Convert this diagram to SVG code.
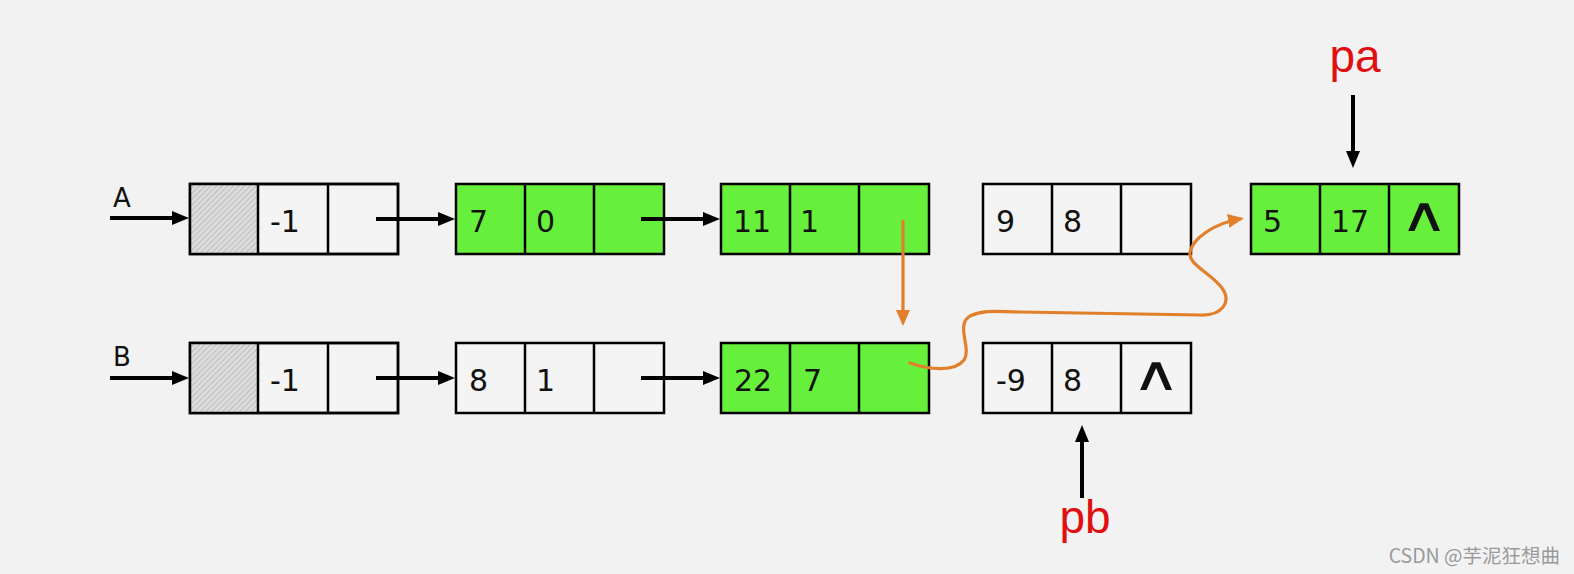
<svg xmlns="http://www.w3.org/2000/svg" width="1574" height="574" viewBox="0 0 1574 574">
<defs>
<style>
.cell{fill:#f4f4f4;stroke:#000;stroke-width:2.5}
.g{fill:#66f03c;stroke:#000;stroke-width:2.5}
.div{stroke:#000;stroke-width:2.5}
.t{font-family:"DejaVu Sans",Verdana,sans-serif;font-size:30px;fill:#111}
.nil{font-family:"DejaVu Sans",sans-serif;font-size:48px;fill:#111;text-anchor:middle}
.lab{font-family:"DejaVu Sans",Verdana,sans-serif;font-size:26px;fill:#111}
.ptr{font-family:"Liberation Sans",Arial,sans-serif;font-size:46px;fill:#e01010;text-anchor:middle}
.blk{stroke:#000;stroke-width:4;fill:none}
.org{stroke:#e37f2b;stroke-width:3.2;fill:none;stroke-linecap:round}
</style>
<pattern id="hatch" width="4" height="4" patternUnits="userSpaceOnUse" patternTransform="rotate(45)">
<rect width="4" height="4" fill="#dcdcdc"/>
<line x1="0" y1="0" x2="0" y2="4" stroke="#a8a8a8" stroke-width="1.2"/>
</pattern>
<marker id="ab" markerUnits="userSpaceOnUse" markerWidth="18" markerHeight="16" refX="12" refY="7" orient="auto">
<path d="M0,0 L17,7 L0,14 Z" fill="#000"/>
</marker>
<marker id="ao" markerUnits="userSpaceOnUse" markerWidth="18" markerHeight="16" refX="12" refY="7" orient="auto">
<path d="M0,0 L16,7 L0,14 Z" fill="#e37f2b"/>
</marker>
</defs>
<rect width="1574" height="574" fill="#f2f2f2"/>

<g id="labelA"><text class="lab" x="113" y="207">A</text></g>
<g id="labelB"><text class="lab" x="113" y="366">B</text></g>

<g id="A0">
<rect class="cell" x="190" y="184" width="208" height="70"/>
<rect x="191" y="185" width="67" height="68" fill="url(#hatch)"/>
<line class="div" x1="258" y1="184" x2="258" y2="254"/>
<line class="div" x1="328" y1="184" x2="328" y2="254"/>
<rect x="190" y="184" width="208" height="70" fill="none" stroke="#000" stroke-width="2.5"/>
<text class="t" x="270" y="232">-1</text>
</g>
<g id="A1">
<rect class="g" x="456" y="184" width="208" height="70"/>
<line class="div" x1="525" y1="184" x2="525" y2="254"/>
<line class="div" x1="594" y1="184" x2="594" y2="254"/>
<text class="t" x="469" y="232">7</text>
<text class="t" x="536" y="232">0</text>
</g>
<g id="A2">
<rect class="g" x="721" y="184" width="208" height="70"/>
<line class="div" x1="790" y1="184" x2="790" y2="254"/>
<line class="div" x1="859" y1="184" x2="859" y2="254"/>
<text class="t" x="733" y="232">11</text>
<text class="t" x="800" y="232">1</text>
</g>
<g id="A3">
<rect class="cell" x="983" y="184" width="208" height="70"/>
<line class="div" x1="1052" y1="184" x2="1052" y2="254"/>
<line class="div" x1="1121" y1="184" x2="1121" y2="254"/>
<text class="t" x="996" y="232">9</text>
<text class="t" x="1063" y="232">8</text>
</g>
<g id="A4">
<rect class="g" x="1251" y="184" width="208" height="70"/>
<line class="div" x1="1320" y1="184" x2="1320" y2="254"/>
<line class="div" x1="1389" y1="184" x2="1389" y2="254"/>
<text class="t" x="1263" y="232">5</text>
<text class="t" x="1331" y="232">17</text>
<text class="nil" transform="translate(1424,231) scale(1.4,1)" x="0" y="0">∧</text>
</g>

<g id="B0">
<rect class="cell" x="190" y="343" width="208" height="70"/>
<rect x="191" y="344" width="67" height="68" fill="url(#hatch)"/>
<line class="div" x1="258" y1="343" x2="258" y2="413"/>
<line class="div" x1="328" y1="343" x2="328" y2="413"/>
<rect x="190" y="343" width="208" height="70" fill="none" stroke="#000" stroke-width="2.5"/>
<text class="t" x="270" y="391">-1</text>
</g>
<g id="B1">
<rect class="cell" x="456" y="343" width="208" height="70"/>
<line class="div" x1="525" y1="343" x2="525" y2="413"/>
<line class="div" x1="594" y1="343" x2="594" y2="413"/>
<text class="t" x="469" y="391">8</text>
<text class="t" x="536" y="391">1</text>
</g>
<g id="B2">
<rect class="g" x="721" y="343" width="208" height="70"/>
<line class="div" x1="790" y1="343" x2="790" y2="413"/>
<line class="div" x1="859" y1="343" x2="859" y2="413"/>
<text class="t" x="734" y="391">22</text>
<text class="t" x="803" y="391">7</text>
</g>
<g id="B3">
<rect class="cell" x="983" y="343" width="208" height="70"/>
<line class="div" x1="1052" y1="343" x2="1052" y2="413"/>
<line class="div" x1="1121" y1="343" x2="1121" y2="413"/>
<text class="t" x="996" y="391">-9</text>
<text class="t" x="1063" y="391">8</text>
<text class="nil" transform="translate(1156,390) scale(1.4,1)" x="0" y="0">∧</text>
</g>

<g id="pa"><text class="ptr" x="1355" y="72">pa</text></g>
<g id="pb"><text class="ptr" x="1085" y="533">pb</text></g>

<g id="connectors">
<line class="blk" x1="110" y1="218" x2="184" y2="218" marker-end="url(#ab)"/>
<line class="blk" x1="376" y1="219" x2="450" y2="219" marker-end="url(#ab)"/>
<line class="blk" x1="641" y1="219" x2="715" y2="219" marker-end="url(#ab)"/>
<line class="blk" x1="110" y1="378" x2="184" y2="378" marker-end="url(#ab)"/>
<line class="blk" x1="376" y1="378" x2="450" y2="378" marker-end="url(#ab)"/>
<line class="blk" x1="641" y1="378" x2="715" y2="378" marker-end="url(#ab)"/>
<line class="blk" x1="1353" y1="95" x2="1353" y2="163" marker-end="url(#ab)"/>
<line class="blk" x1="1082" y1="498" x2="1082" y2="430" marker-end="url(#ab)"/>
<line class="org" x1="903" y1="221" x2="903" y2="322" marker-end="url(#ao)"/>
<path class="org" d="M910,363 C930,370 955,372 964,360 C972,348 955,325 970,316 C985,309 1000,312 1020,312 L1200,315 C1222,316 1232,302 1222,288 C1210,272 1188,265 1190,252 C1193,238 1215,223 1240,219" marker-end="url(#ao)"/>
</g>

<g id="watermark"><text x="1560" y="563" text-anchor="end" font-family="'Noto Sans CJK SC','Noto Sans',sans-serif" font-size="19.5" fill="#9a9a9a">CSDN @芋泥狂想曲</text></g>
</svg>
